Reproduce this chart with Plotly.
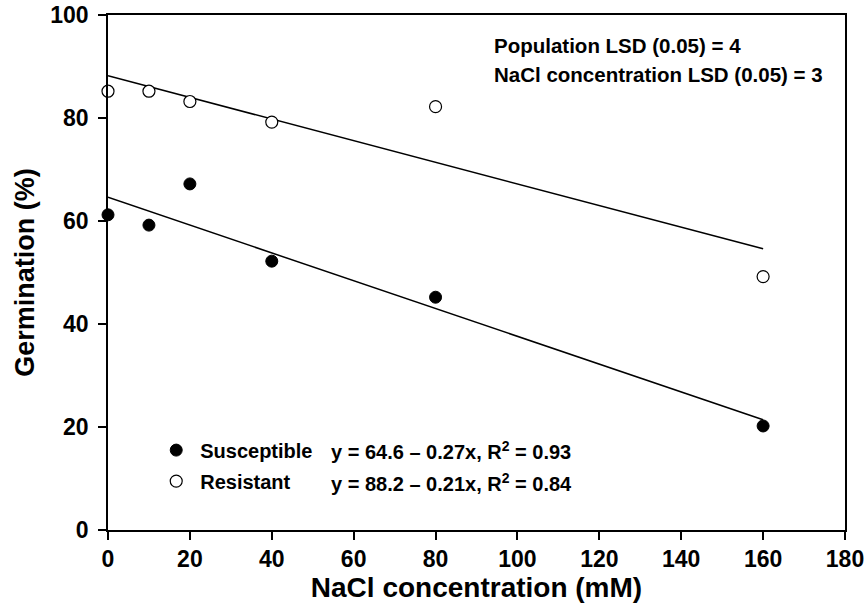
import plotly.graph_objects as go

nacl = [0, 10, 20, 40, 80, 160]
susceptible = [61.2, 59.2, 67.2, 52.2, 45.2, 20.2]
resistant = [85.2, 85.2, 83.2, 79.2, 82.2, 49.2]

fit_names = ["Susceptible", "Resistant"]
fit_intercepts = [64.6, 88.2]
fit_slopes = [-0.27, -0.21]
fit_r2 = [0.93, 0.84]
fit_x = [0, 160]

x_ticks = [0, 20, 40, 60, 80, 100, 120, 140, 160, 180]
y_ticks = [0, 20, 40, 60, 80, 100]

FONT = "Liberation Sans, Arial, sans-serif"

fig = go.Figure()

for b, m in zip(fit_intercepts, fit_slopes):
    fig.add_trace(go.Scatter(
        x=fit_x, y=[b + m * xx for xx in fit_x], mode="lines",
        line=dict(color="black", width=1.5), showlegend=False, hoverinfo="skip"))

fig.add_trace(go.Scatter(
    x=nacl, y=susceptible, mode="markers", name="Susceptible",
    marker=dict(symbol="circle", size=12, color="black", line=dict(color="black", width=1)),
    cliponaxis=False, legendgroup="a"))
fig.add_trace(go.Scatter(
    x=nacl, y=resistant, mode="markers", name="Resistant",
    marker=dict(symbol="circle", size=12, color="white", line=dict(color="black", width=1.2)),
    cliponaxis=False, legendgroup="b"))

eq_y = [0.1534, 0.0932]
for i in range(2):
    sign = "–"
    fig.add_annotation(
        xref="paper", yref="paper", x=0.300, y=eq_y[i], xanchor="left", yanchor="middle",
        text=f"y = {fit_intercepts[i]} {sign} {abs(fit_slopes[i])}x, R<sup>2</sup> = {fit_r2[i]}",
        showarrow=False, font=dict(family=FONT, size=20, color="black", weight="bold"))

lsd_text = ["Population LSD (0.05) = 4", "NaCl concentration LSD (0.05) = 3"]
lsd_y = [0.9417, 0.8835]
for t, yy in zip(lsd_text, lsd_y):
    fig.add_annotation(
        xref="paper", yref="paper", x=0.521, y=yy, xanchor="left", yanchor="middle",
        text=t, showarrow=False, font=dict(family=FONT, size=20.5, color="black", weight="bold"))

axis_common = dict(
    showgrid=False, zeroline=False, showline=True, linecolor="black", linewidth=1.5,
    mirror=True, ticks="outside", ticklen=8, tickwidth=1.5, tickcolor="black",
    tickfont=dict(family=FONT, size=23, color="black", weight="bold"),
    automargin=False,
)

fig.update_xaxes(
    range=[0, 180], tickvals=x_ticks, ticktext=[str(v) for v in x_ticks],
    title=dict(text="NaCl concentration (mM)", font=dict(family=FONT, size=28, color="black", weight="bold"), standoff=4),
    **axis_common)
fig.update_yaxes(
    range=[0, 100], tickvals=y_ticks, ticktext=[str(v) for v in y_ticks],
    ticklabelstandoff=5,
    title=dict(text="Germination (%)", font=dict(family=FONT, size=27, color="black", weight="bold"), standoff=8),
    **axis_common)

fig.update_layout(
    width=868, height=603,
    margin=dict(l=108, r=23, t=15, b=73),
    plot_bgcolor="white", paper_bgcolor="white",
    font=dict(family=FONT, color="black"),
    legend=dict(x=0.060, y=0.193, xanchor="left", yanchor="top", itemwidth=38,
                font=dict(family=FONT, size=20, color="black", weight="bold"),
                bgcolor="rgba(0,0,0,0)", traceorder="grouped", tracegroupgap=2),
)

fig.write_html("out.html", config={"displayModeBar": False},
               post_script="document.body.style.margin='0';document.body.style.overflow='hidden';")
